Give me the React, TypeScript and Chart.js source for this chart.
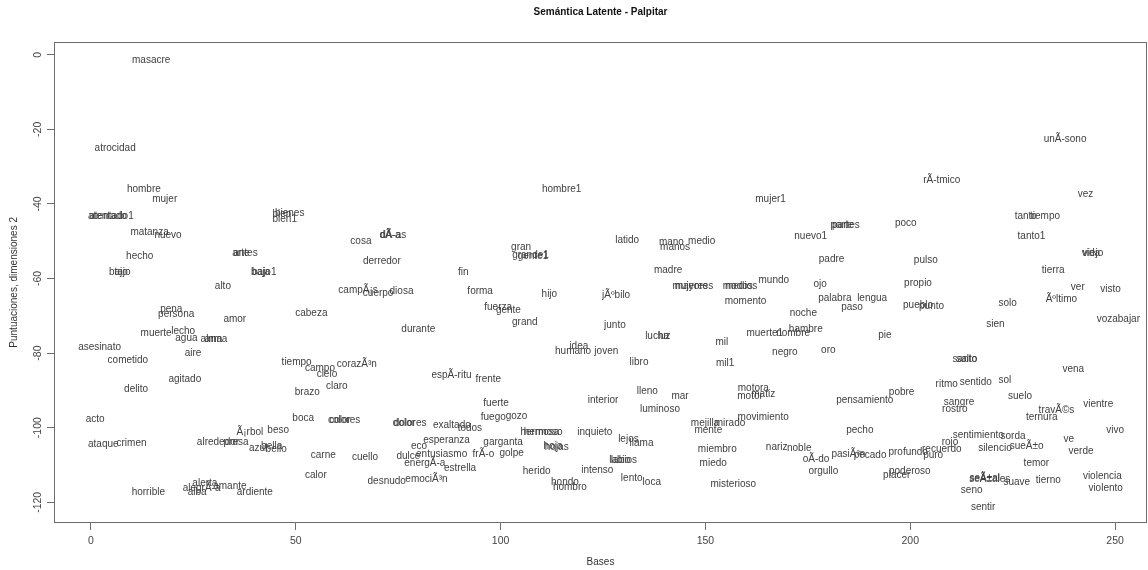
import { useEffect, useRef } from "react";
import { Chart, registerables } from "chart.js";

Chart.register(...registerables);

// Word labels with their coordinates on the first two latent dimensions.
const WORDS = [
  "masacre", "atrocidad", "hombre", "mujer", "hombre1", "mujer1", "unÃ-sono", "rÃ-tmico", "vez",
  "atentado", "atentado1", "matanza", "nuevo", "hecho", "bajo", "tajo", "antes", "arte", "bajo1", "baja",
  "alto", "bienes", "bien1", "bien", "cabeza", "amor", "persona", "pena", "muerte", "lecho", "agua",
  "alma", "arma", "asesinato", "aire", "cometido", "tiempo", "campo", "cielo", "claro", "corazÃ³n",
  "cosa", "dÃ-as", "dÃ-a", "derredor", "fin", "gran", "grande1", "gente1", "forma", "hijo", "fuerza",
  "gente", "grand", "durante", "humano", "idea", "joven", "diosa", "jÃºbilo", "junto", "latido", "mano",
  "manos", "medio", "madre", "mayores", "mujeres", "modos", "medios", "mundo", "momento", "nuevo1",
  "partes", "parte", "padre", "ojo", "palabra", "lengua", "paso", "noche", "muerte1", "hambre", "nombre",
  "mil", "mil1", "lucha", "luz", "libro", "oro", "negro", "poco", "tanto", "tiempo", "tanto1", "vida",
  "viejo", "pulso", "tierra", "propio", "ver", "visto", "Ãºltimo", "solo", "pueblo", "punto", "sien",
  "vozabajar", "pie", "santo", "salto", "vena", "agitado", "delito", "brazo", "acto", "boca", "colores",
  "color", "dolores", "dolor", "Ã¡rbol", "beso", "ataque", "crimen", "alrededor", "presa", "azul",
  "bello", "bella", "carne", "calor", "horrible", "alerta", "alegrÃ-a", "amante", "ardiente", "alba",
  "espÃ-ritu", "frente", "fuerte", "fuego", "gozo", "esperanza", "garganta", "eco", "dulce",
  "entusiasmo", "frÃ-o", "golpe", "energÃ-a", "estrella", "cuello", "desnudo", "emociÃ³n", "hermoso",
  "hermosa", "hojas", "hoja", "inquieto", "herido", "intenso", "interior", "lleno", "mar", "luminoso",
  "motora", "motor", "matiz", "movimiento", "mejilla", "mirado", "mente", "lejos", "llama", "labios",
  "labio", "lento", "loca", "miembro", "miedo", "misterioso", "nariz", "noble", "oÃ-do", "orgullo",
  "pecho", "pensamiento", "pasiÃ³n", "pobre", "ritmo", "sentido", "sol", "suelo", "sangre", "rostro",
  "travÃ©s", "ternura", "vientre", "vivo", "sentimiento", "sorda", "rojo", "ve", "silencio", "sueÃ±o",
  "verde", "recuerdo", "puro", "profundo", "pecado", "temor", "poderoso", "placer", "seÃ±al",
  "seÃ±ales", "suave", "tierno", "violencia", "violento", "seno", "sentir", "campÃ¡s", "cuerpo",
  "exaltado", "todos", "hondo", "hombro",
];

const BASES = [
  14.7, 5.9, 12.9, 18.0, 114.9, 165.9, 237.8, 207.7, 242.8,
  4.0, 5.0, 14.3, 18.8, 11.9, 6.7, 7.7, 37.7, 36.6, 42.3, 41.4,
  32.2, 48.5, 47.3, 46.6, 53.8, 35.1, 20.8, 19.6, 15.9, 22.5, 23.3,
  29.4, 30.5, 2.1, 24.9, 9.0, 50.2, 55.9, 57.6, 60.0, 64.9,
  65.9, 73.8, 73.0, 71.0, 90.9, 105.0, 107.3, 107.9, 95.0, 111.9, 99.4,
  101.9, 105.9, 79.9, 117.7, 119.1, 125.8, 75.8, 128.2, 127.9, 130.9, 141.7,
  142.6, 149.1, 140.9, 147.2, 146.3, 157.9, 158.7, 166.7, 159.8, 175.7,
  184.3, 183.3, 180.8, 178.0, 181.6, 190.7, 185.8, 173.9, 164.5, 174.5, 171.4,
  154.0, 154.8, 138.2, 139.9, 133.8, 180.0, 169.4, 198.9, 228.2, 232.9, 229.6, 244.1,
  244.6, 203.8, 234.9, 201.9, 240.9, 248.9, 236.9, 223.8, 201.9, 205.2, 220.8,
  250.8, 193.8, 213.3, 213.8, 239.8, 22.9, 11.0, 52.8, 1.0, 51.8, 61.8,
  60.8, 77.9, 76.4, 38.8, 45.7, 3.0, 9.9, 31.0, 35.4, 40.8,
  45.2, 44.1, 56.7, 54.9, 14.0, 27.8, 27.0, 33.9, 40.0, 25.9,
  88.0, 97.0, 98.9, 98.2, 103.9, 86.8, 100.6, 80.1, 77.5,
  85.6, 95.8, 102.7, 81.5, 90.1, 66.9, 72.2, 81.9, 110.4,
  109.6, 113.7, 112.8, 123.0, 108.8, 123.6, 125.0, 135.8, 143.8, 138.9,
  161.7, 160.9, 164.1, 164.1, 149.9, 156.0, 150.7, 131.2, 134.4, 130.1,
  129.1, 132.0, 136.9, 152.9, 151.9, 156.8, 167.4, 172.9, 177.0, 178.8,
  187.7, 188.9, 184.9, 197.9, 208.9, 216.0, 223.1, 226.8, 211.9, 210.9,
  235.7, 232.1, 245.9, 250.0, 216.6, 225.1, 209.7, 238.7, 220.7, 228.4,
  241.7, 207.7, 205.6, 199.5, 190.2, 230.8, 199.9, 196.7, 218.2,
  219.4, 226.0, 233.7, 246.9, 247.7, 215.0, 217.8, 65.2, 70.1,
  88.1, 92.5, 115.7, 116.9,
];

const DIM2 = [
  -1.4, -25.1, -36.0, -38.7, -36.0, -38.8, -22.7, -33.6, -37.4,
  -43.2, -43.2, -47.5, -48.5, -53.9, -58.4, -58.4, -53.2, -53.2, -58.3, -58.3,
  -62.2, -42.5, -44.0, -42.7, -69.3, -70.9, -69.5, -68.2, -74.7, -74.2, -76.0,
  -76.2, -76.4, -78.3, -80.1, -81.9, -82.5, -84.0, -85.6, -89.0, -83.0,
  -50.1, -48.3, -48.3, -55.5, -58.4, -51.5, -53.8, -54.0, -63.3, -64.2, -67.7,
  -68.6, -71.6, -73.5, -79.4, -78.1, -79.5, -63.3, -64.6, -72.5, -49.7, -50.4,
  -51.5, -50.1, -57.7, -62.0, -62.0, -62.0, -62.0, -60.4, -66.0, -48.6,
  -45.8, -45.8, -54.9, -61.5, -65.3, -65.2, -67.7, -69.3, -74.8, -73.5, -74.6,
  -77.2, -82.7, -75.4, -75.4, -82.5, -79.2, -79.9, -45.2, -43.2, -43.4, -48.6, -53.2,
  -53.2, -55.0, -57.9, -61.3, -62.4, -62.9, -65.6, -66.7, -67.1, -67.4, -72.2,
  -70.9, -75.1, -81.6, -81.6, -84.3, -86.9, -89.7, -90.6, -97.8, -97.5, -97.9,
  -97.9, -98.8, -98.8, -101.1, -100.6, -104.5, -104.2, -103.8, -103.8, -105.5,
  -105.7, -105.1, -107.3, -112.7, -117.2, -114.9, -116.2, -115.6, -117.4, -117.2,
  -85.9, -87.0, -93.5, -97.2, -96.9, -103.3, -103.8, -105.1, -107.6,
  -107.1, -107.1, -106.9, -109.5, -110.9, -108.0, -114.3, -113.8, -101.1,
  -101.1, -105.2, -105.0, -101.1, -111.8, -111.5, -92.6, -90.3, -91.5, -95.1,
  -89.4, -91.5, -91.0, -97.3, -98.8, -98.7, -100.8, -103.0, -104.2, -108.7,
  -108.7, -113.6, -114.5, -105.8, -109.5, -115.1, -105.3, -105.5, -108.4, -111.6,
  -100.8, -92.6, -107.1, -90.5, -88.4, -87.8, -87.2, -91.7, -93.2, -95.0,
  -95.4, -97.1, -93.7, -100.8, -102.0, -102.4, -103.8, -103.0, -105.5, -105.1,
  -106.2, -105.8, -107.5, -106.7, -107.3, -109.5, -111.6, -112.7, -113.5,
  -113.8, -114.7, -114.0, -113.1, -116.1, -116.7, -121.2, -63.2, -64.0,
  -99.3, -100.1, -114.6, -115.9,
];

const X_TICKS = [0, 50, 100, 150, 200, 250];
const Y_TICKS = [0, -20, -40, -60, -80, -100, -120];
const X_RANGE = [-9.03, 257.8];
const Y_RANGE = [-125.55, 3.49];

const FONT = "'Liberation Sans', Arial, Helvetica, sans-serif";
const AXIS_GRAY = "#6e6e6e";

// Draws each word centred on its (x, y) point, plus the frame round the plot.
const wordLabels = {
  id: "wordLabels",
  afterDatasetsDraw(chart: any) {
    const { ctx, chartArea } = chart;
    const meta = chart.getDatasetMeta(0);
    ctx.save();
    ctx.beginPath();
    ctx.rect(chartArea.left, chartArea.top, chartArea.right - chartArea.left, chartArea.bottom - chartArea.top);
    ctx.clip();
    ctx.font = `10px ${FONT}`;
    ctx.fillStyle = "#404040";
    ctx.textAlign = "center";
    ctx.textBaseline = "middle";
    meta.data.forEach((pt: any, i: number) => {
      ctx.fillText(WORDS[i], pt.x, pt.y);
    });
    ctx.restore();

    ctx.save();
    ctx.strokeStyle = AXIS_GRAY;
    ctx.lineWidth = 1;
    ctx.strokeRect(
      Math.round(chartArea.left) + 0.5,
      Math.round(chartArea.top) + 0.5,
      Math.round(chartArea.right - chartArea.left) - 1,
      Math.round(chartArea.bottom - chartArea.top) - 1
    );
    ctx.restore();
  },
};

export default function App() {
  const canvasRef = useRef<HTMLCanvasElement | null>(null);

  useEffect(() => {
    const canvas = canvasRef.current;
    if (!canvas) return;
    const points = BASES.map((b, i) => ({ x: b, y: DIM2[i] }));

    const chart = new Chart(canvas, {
      type: "scatter",
      data: {
        datasets: [
          {
            data: points,
            pointRadius: 0,
            pointHoverRadius: 0,
            showLine: false,
          },
        ],
      },
      options: {
        responsive: false,
        animation: false,
        events: [],
        layout: { padding: { left: 0, right: 1, top: 0, bottom: 0 } },
        plugins: {
          legend: { display: false },
          tooltip: { enabled: false },
          title: {
            display: true,
            fullSize: false,
            text: "Semántica Latente - Palpitar",
            color: "#111",
            font: { family: FONT, size: 10, weight: "bold", lineHeight: 1.2 },
            padding: { top: 6, bottom: 23.7 },
          },
        },
        scales: {
          x: {
            type: "linear",
            min: X_RANGE[0],
            max: X_RANGE[1],
            afterBuildTicks: (s: any) => {
              s.ticks = X_TICKS.map((v) => ({ value: v }));
            },
            afterFit: (s: any) => {
              s.height = 47;
            },
            border: { display: false },
            grid: {
              display: true,
              drawOnChartArea: false,
              drawTicks: true,
              tickLength: 7,
              color: AXIS_GRAY,
            },
            ticks: {
              color: "#444",
              padding: 5,
              maxRotation: 0,
              autoSkip: false,
              font: { family: FONT, size: 10.5 },
              callback: (v: any) => String(v),
            },
            title: {
              display: true,
              text: "Bases",
              color: "#333",
              font: { family: FONT, size: 10, lineHeight: 1.2 },
              padding: { top: 0, bottom: 2 },
            },
          },
          y: {
            type: "linear",
            min: Y_RANGE[0],
            max: Y_RANGE[1],
            afterBuildTicks: (s: any) => {
              s.ticks = Y_TICKS.map((v) => ({ value: v }));
            },
            afterFit: (s: any) => {
              s.width = 54;
            },
            border: { display: false },
            grid: {
              display: true,
              drawOnChartArea: false,
              drawTicks: true,
              tickLength: 7,
              color: AXIS_GRAY,
            },
            ticks: {
              color: "#444",
              padding: -2,
              minRotation: 90,
              maxRotation: 90,
              crossAlign: "center",
              autoSkip: false,
              font: { family: FONT, size: 10.5 },
              callback: (v: any) => String(v),
            },
            title: {
              display: true,
              text: "Puntuaciones, dimensiones 2",
              color: "#333",
              font: { family: FONT, size: 10, lineHeight: 1.2 },
              padding: { top: 8, bottom: 0 },
            },
          },
        },
      },
      plugins: [wordLabels],
    });

    return () => chart.destroy();
  }, []);

  return (
    <div style={{ position: "fixed", left: 0, top: 0, width: 1148, height: 570, background: "#fff" }}>
      <canvas ref={canvasRef} width={1148} height={570} style={{ display: "block" }} />
    </div>
  );
}
